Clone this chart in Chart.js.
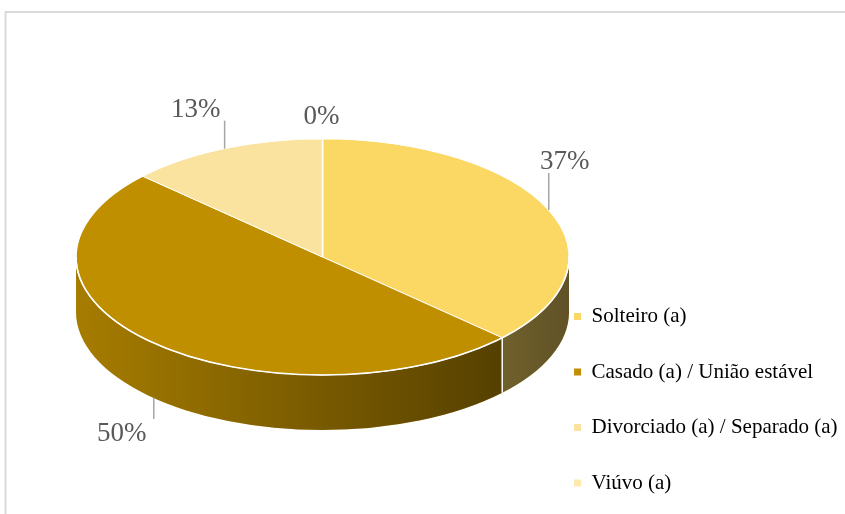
<!DOCTYPE html>
<html>
<head>
<meta charset="utf-8">
<script src="https://cdn.jsdelivr.net/npm/chart.js@4.4.1/dist/chart.umd.min.js"></script>
<style>
  html, body { margin: 0; padding: 0; background: #fff; }
  canvas { display: block; }
</style>
</head>
<body>
<canvas id="chart" width="845" height="514"></canvas>
<script>
const categories = ['Solteiro (a)', 'Casado (a) / União estável', 'Divorciado (a) / Separado (a)', 'Viúvo (a)'];
const percentages = [37, 50, 13, 0];

const sliceColors = ['#FBD764', '#BF8F00', '#FAE39E', '#FDE9B0'];
// where each % label sits, relative to the edge point of its slice
const labelOffsets = [[16, -50], [-32, 34], [-29, -41], [-1, -24]];

const TILT = 0.479;   // vertical squash of the pie top
const DEPTH = 55;     // thickness of the pie

const frame = {
  id: 'frame',
  beforeDraw(chart) {
    const ctx = chart.ctx;
    ctx.save();
    ctx.strokeStyle = '#d9d9d9';
    ctx.lineWidth = 2;
    ctx.strokeRect(5.5, 12, 900, 600);
    ctx.restore();
  }
};

const pie3d = {
  id: 'pie3d',
  beforeDatasetsDraw(chart) {
    const ctx = chart.ctx;
    const arcs = chart.getDatasetMeta(0).data;
    const cx = arcs[0].x, cy = arcs[0].y, rx = arcs[0].outerRadius, ry = rx * TILT;

    // side wall of the front half
    ctx.save();
    arcs.forEach((arc, i) => {
      const a1 = Math.max(arc.startAngle, 0);
      const a2 = Math.min(arc.endAngle, Math.PI);
      if (a2 <= a1) return;
      ctx.beginPath();
      ctx.ellipse(cx, cy, rx, ry, 0, a1, a2);
      ctx.ellipse(cx, cy + DEPTH, rx, ry, 0, a2, a1, true);
      ctx.closePath();
      ctx.fillStyle = sliceColors[i];
      ctx.fill();
      const shade = ctx.createLinearGradient(cx - rx, 0, cx + rx, 0);
      shade.addColorStop(0, 'rgba(0,0,0,0.13)');
      shade.addColorStop(1, 'rgba(0,0,0,0.62)');
      ctx.fillStyle = shade;
      ctx.fill();
    });
    ctx.strokeStyle = '#fff';
    ctx.lineWidth = 1.5;
    arcs.forEach(arc => {
      const a = arc.endAngle;
      if (a > 0 && a < Math.PI) {
        const x = cx + rx * Math.cos(a), y = cy + ry * Math.sin(a);
        ctx.beginPath();
        ctx.moveTo(x, y);
        ctx.lineTo(x, y + DEPTH);
        ctx.stroke();
      }
    });
    ctx.restore();

    // squash the flat pie into the top face
    ctx.save();
    ctx.translate(cx, cy);
    ctx.scale(1, TILT);
    ctx.translate(-cx, -cy);
  },
  afterDatasetsDraw(chart) {
    const ctx = chart.ctx;
    ctx.restore();

    const arcs = chart.getDatasetMeta(0).data;
    const cx = arcs[0].x, cy = arcs[0].y, rx = arcs[0].outerRadius, ry = rx * TILT;

    ctx.save();
    ctx.strokeStyle = '#fff';
    ctx.lineWidth = 1.5;
    ctx.beginPath();
    ctx.ellipse(cx, cy, rx, ry, 0, 0, Math.PI);
    ctx.stroke();

    const total = percentages.reduce((a, b) => a + b, 0);
    const size = 27;
    ctx.font = size + 'px "Liberation Serif", "Times New Roman", serif';
    ctx.textAlign = 'center';
    ctx.textBaseline = 'alphabetic';
    arcs.forEach((arc, i) => {
      const mid = (arc.startAngle + arc.endAngle) / 2;
      const ax = cx + rx * Math.cos(mid);
      const ay = cy + ry * Math.sin(mid) + (Math.sin(mid) > 0 ? DEPTH : 0);
      const tx = ax + labelOffsets[i][0], ty = ay + labelOffsets[i][1];
      const text = Math.round(percentages[i] / total * 100) + '%';
      const hw = ctx.measureText(text).width / 2, hh = 9;

      // leader line
      const near = Math.min(Math.max(ax, tx - hw), tx + hw);
      ctx.strokeStyle = '#a6a6a6';
      ctx.lineWidth = 1.5;
      if (Math.abs(ax - near) < 14) {
        const edgeY = ay > ty ? ty + hh + 4 : ty - hh - 4;
        if (Math.abs(ay - edgeY) > 18) {
          ctx.beginPath();
          ctx.moveTo(ax, ay);
          ctx.lineTo(ax, edgeY);
          ctx.stroke();
        }
      } else {
        const edgeX = ax > tx ? tx + hw + 4 : tx - hw - 4;
        ctx.beginPath();
        ctx.moveTo(ax, ay);
        ctx.lineTo(ax, ty + 8);
        ctx.lineTo(edgeX, ty + 8);
        ctx.stroke();
      }

      ctx.fillStyle = '#595959';
      ctx.fillText(text, tx, ty + size * 0.34);
    });
    ctx.restore();
  }
};

new Chart(document.getElementById('chart'), {
  type: 'pie',
  data: {
    labels: categories,
    datasets: [{
      data: percentages,
      backgroundColor: sliceColors,
      borderColor: '#ffffff',
      borderWidth: 1.5,
      radius: 246.5
    }]
  },
  options: {
    responsive: false,
    animation: false,
    events: [],
    layout: { padding: { left: 105.5, right: -2.6, top: -10, bottom: -14 } },
    plugins: {
      legend: {
        position: 'right',
        align: 'end',
        labels: {
          boxWidth: 7,
          boxHeight: 7,
          padding: 34.5,
          color: '#000',
          font: { family: '"Liberation Serif", "Times New Roman", serif', size: 21 },
          generateLabels: chart => chart.data.labels.map((text, i) => ({
            text,
            fillStyle: sliceColors[i],
            strokeStyle: sliceColors[i],
            lineWidth: 0,
            fontColor: '#000',
            hidden: false,
            index: i
          }))
        }
      },
      tooltip: { enabled: false }
    }
  },
  plugins: [frame, pie3d]
});
</script>
</body>
</html>
